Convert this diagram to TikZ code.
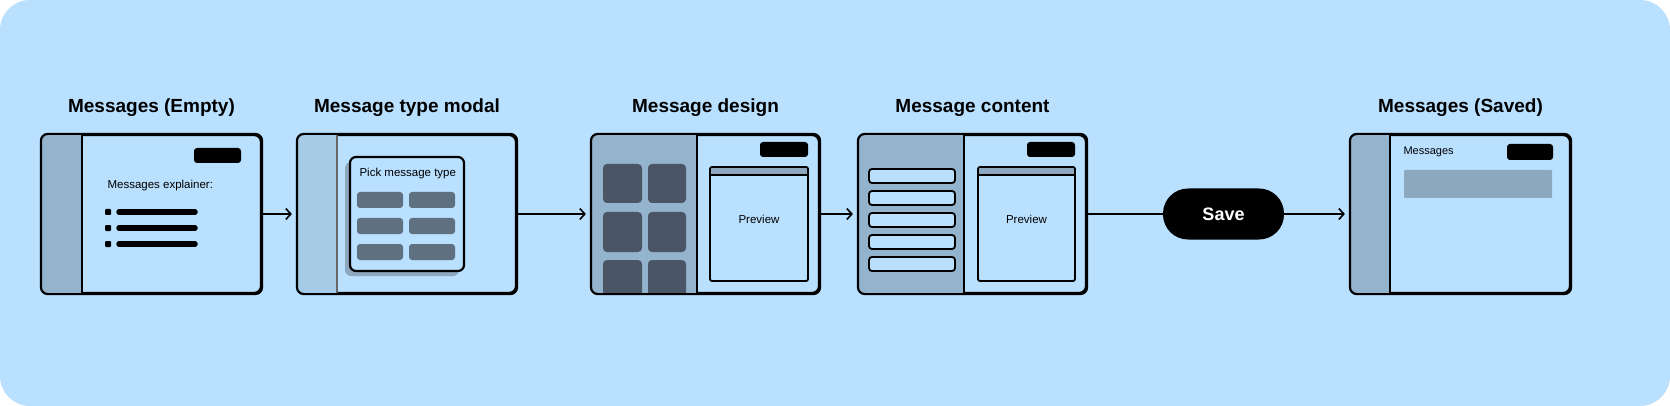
\documentclass[tikz,border=0pt]{standalone}
\usepackage{fontspec}
\setmainfont{Liberation Sans}
\usepackage{tikz}
\usetikzlibrary{arrows.meta}

\definecolor{bgblue}{HTML}{B9E0FF}
\definecolor{sidedark}{HTML}{94B3CC}
\definecolor{sidelight}{HTML}{A6CBE6}
\definecolor{tiledark}{HTML}{4A5666}
\definecolor{btngray}{HTML}{5F7080}
\definecolor{bargray}{HTML}{8DA8BE}

\tikzset{
  screen/.style={draw, line width=2.2pt, rounded corners=7pt, fill=bgblue, minimum height=158pt, inner sep=0pt},
  title/.style={font=\fontsize{19}{22}\selectfont\bfseries},
  small/.style={font=\fontsize{11.5}{13}\selectfont},
  flow/.style={line width=1.6pt, -{Straight Barb[length=5pt,width=11pt,line width=1.6pt]}, shorten >=5pt},
}

\begin{document}
\begin{tikzpicture}[x=1pt, y=-1pt]
  \useasboundingbox (0,0) rectangle (1670,406);
  \fill[white] (0,0) rectangle (1670,406);
  \fill[bgblue, rounded corners=30pt] (0,0) rectangle (1670,406);

  % screens
  \node[screen, minimum width=219pt] (empty)   at (151.5,214) {};
  \node[screen, minimum width=218pt] (modal)   at (407,214)   {};
  \node[screen, minimum width=227pt] (design)  at (705.5,214) {};
  \node[screen, minimum width=227pt] (content) at (972.5,214) {};
  \node[screen, minimum width=219pt] (saved)   at (1460.5,214) {};

  \node[title] at (151.5,108) {Messages (Empty)};
  \node[title] at (407,108)   {Message type modal};
  \node[title] at (705.5,108) {Message design};
  \node[title] at (972.5,108) {Message content};
  \node[title] at (1460.5,108) {Messages (Saved)};

  % Messages (Empty)
  \begin{scope}
    \clip[rounded corners=7pt] (empty.north west) rectangle (empty.south east);
    \fill[sidedark] (empty.north west) rectangle (82,293);
  \end{scope}
  \draw[line width=2.2pt] (82,135) -- (82,293);
  \draw[line width=2.2pt, rounded corners=7pt] (empty.north west) rectangle (empty.south east);
  \fill[black, rounded corners=3pt] (194,148) rectangle (241,163);
  \node[small, anchor=west] at (104,186) {Messages explainer:};
  \fill[black, rounded corners=1pt] (105,209) rectangle (111,215);
  \fill[black, rounded corners=1pt] (105,225) rectangle (111,231);
  \fill[black, rounded corners=1pt] (105,241) rectangle (111,247);
  \draw[line width=5.5pt, line cap=round] (119,212) -- (195,212);
  \draw[line width=5.5pt, line cap=round] (119,228) -- (195,228);
  \draw[line width=5.5pt, line cap=round] (119,244) -- (195,244);

  % Message type modal
  \begin{scope}
    \clip[rounded corners=7pt] (modal.north west) rectangle (modal.south east);
    \fill[sidelight] (modal.north west) rectangle (337,293);
  \end{scope}
  \draw[line width=1.6pt, black!60] (337,135) -- (337,293);
  \draw[line width=2.2pt, rounded corners=7pt] (modal.north west) rectangle (modal.south east);
  \fill[bargray, rounded corners=6pt] (345,162) rectangle (459,276);
  \draw[line width=2.2pt, rounded corners=6pt, fill=bgblue] (350,157) rectangle (464,271);
  \node[small, anchor=west] at (356,174) {Pick message type};
  \fill[btngray, rounded corners=3pt] (357,192) rectangle (403,208);
  \fill[btngray, rounded corners=3pt] (409,192) rectangle (455,208);
  \fill[btngray, rounded corners=3pt] (357,218) rectangle (403,234);
  \fill[btngray, rounded corners=3pt] (409,218) rectangle (455,234);
  \fill[btngray, rounded corners=3pt] (357,244) rectangle (403,260);
  \fill[btngray, rounded corners=3pt] (409,244) rectangle (455,260);

  % Message design
  \begin{scope}
    \clip[rounded corners=7pt] (design.north west) rectangle (design.south east);
    \fill[sidedark] (design.north west) rectangle (697,293);
    \fill[tiledark, rounded corners=4pt] (603,164) rectangle (642,203);
    \fill[tiledark, rounded corners=4pt] (648,164) rectangle (686,203);
    \fill[tiledark, rounded corners=4pt] (603,212) rectangle (642,252);
    \fill[tiledark, rounded corners=4pt] (648,212) rectangle (686,252);
    \fill[tiledark, rounded corners=4pt] (603,260) rectangle (642,300);
    \fill[tiledark, rounded corners=4pt] (648,260) rectangle (686,300);
  \end{scope}
  \draw[line width=2.2pt] (697,135) -- (697,293);
  \draw[line width=2.2pt, rounded corners=7pt] (design.north west) rectangle (design.south east);
  \fill[black, rounded corners=3pt] (760,142) rectangle (808,157);
  \fill[bargray, rounded corners=2pt] (711,168) rectangle (807,175);
  \draw[line width=1.8pt] (711,175) -- (807,175);
  \draw[line width=1.8pt, rounded corners=2pt] (710,167) rectangle (808,281);
  \node[small] at (759,219) {Preview};

  % Message content
  \begin{scope}
    \clip[rounded corners=7pt] (content.north west) rectangle (content.south east);
    \fill[sidedark] (content.north west) rectangle (964,293);
  \end{scope}
  \draw[line width=2.2pt] (964,135) -- (964,293);
  \draw[line width=2.2pt, rounded corners=7pt] (content.north west) rectangle (content.south east);
  \draw[line width=1.8pt, fill=bgblue, rounded corners=3pt] (869,169) rectangle (955,183);
  \draw[line width=1.8pt, fill=bgblue, rounded corners=3pt] (869,191) rectangle (955,205);
  \draw[line width=1.8pt, fill=bgblue, rounded corners=3pt] (869,213) rectangle (955,227);
  \draw[line width=1.8pt, fill=bgblue, rounded corners=3pt] (869,235) rectangle (955,249);
  \draw[line width=1.8pt, fill=bgblue, rounded corners=3pt] (869,257) rectangle (955,271);
  \fill[black, rounded corners=3pt] (1027,142) rectangle (1075,157);
  \fill[bargray, rounded corners=2pt] (979,168) rectangle (1074,175);
  \draw[line width=1.8pt] (979,175) -- (1074,175);
  \draw[line width=1.8pt, rounded corners=2pt] (978,167) rectangle (1075,281);
  \node[small] at (1026.5,219) {Preview};

  % Save
  \node[fill=black, text=white, rounded corners=25pt, minimum width=121pt, minimum height=51pt,
        font=\fontsize{18}{20}\selectfont\bfseries] (save) at (1223.5,214) {Save};

  % Messages (Saved)
  \begin{scope}
    \clip[rounded corners=7pt] (saved.north west) rectangle (saved.south east);
    \fill[sidedark] (saved.north west) rectangle (1390,293);
  \end{scope}
  \draw[line width=2.2pt] (1390,135) -- (1390,293);
  \draw[line width=2.2pt, rounded corners=7pt] (saved.north west) rectangle (saved.south east);
  \node[font=\fontsize{11}{13}\selectfont, anchor=west] at (1400,152) {Messages};
  \fill[black, rounded corners=3pt] (1507,144) rectangle (1553,160);
  \fill[bargray, rounded corners=1pt] (1404,170) rectangle (1552,198);

  % flow
  \draw[flow] (empty.east) -- (modal.west);
  \draw[flow] (modal.east) -- (design.west);
  \draw[flow] (design.east) -- (content.west);
  \draw[line width=1.6pt] (content.east) -- (save.west);
  \draw[flow] (save.east) -- (saved.west);
\end{tikzpicture}
\end{document}
